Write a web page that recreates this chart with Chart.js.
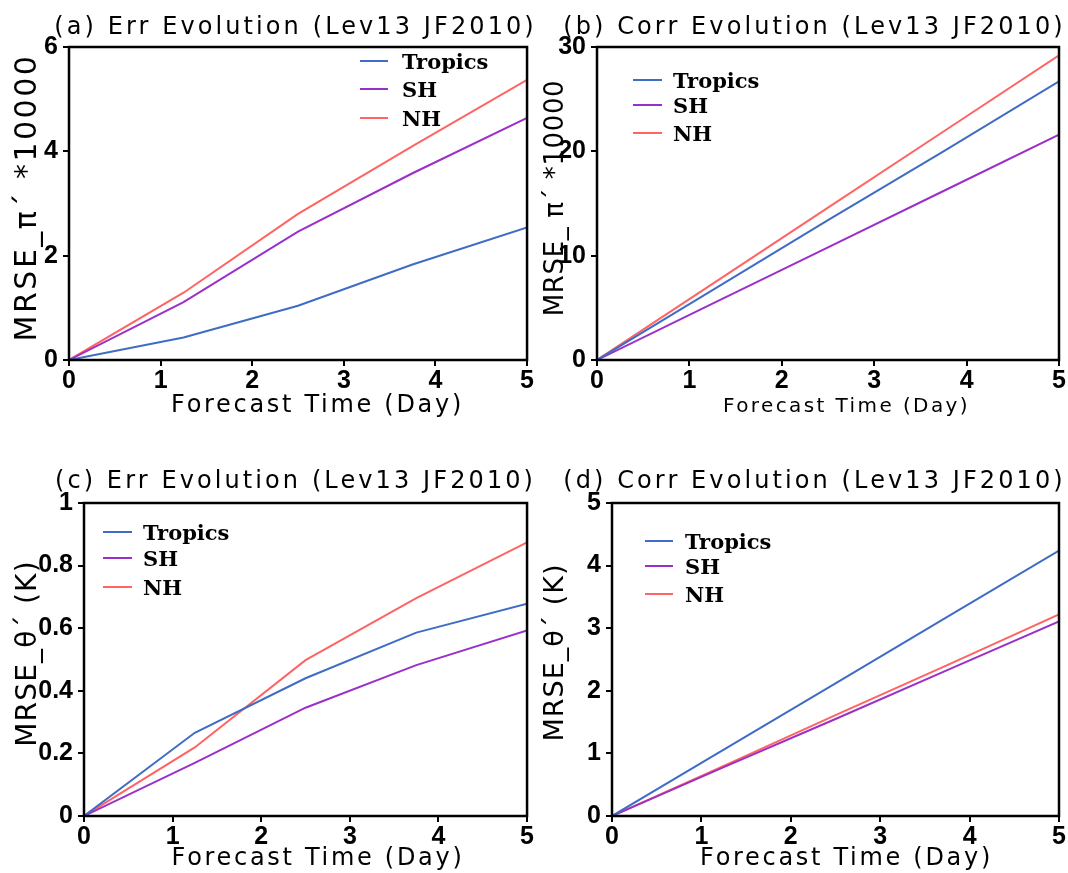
<!DOCTYPE html>
<html>
<head>
<meta charset="utf-8">
<title>MRSE evolution (Lev13 JF2010)</title>
<script src="https://cdn.jsdelivr.net/npm/chart.js@4.4.1/dist/chart.umd.min.js"></script>
<style>
  html, body { margin: 0; padding: 0; background: #fff; }
  #wrap { position: relative; width: 1068px; height: 873px; overflow: hidden; }
  #wrap canvas { position: absolute; }
</style>
</head>
<body>
<div id="wrap">
  <canvas id="chartA" width="534" height="436" style="left:0;top:0"></canvas>
  <canvas id="chartB" width="534" height="436" style="left:534px;top:0"></canvas>
  <canvas id="chartC" width="534" height="436" style="left:0;top:437px"></canvas>
  <canvas id="chartD" width="534" height="436" style="left:534px;top:437px"></canvas>
</div>
<script>
// forecast lead time (days)
const leadDays = [0, 1.25, 2.5, 3.75, 5];
const regionNames = ['Tropics', 'SH', 'NH'];
const regionColors = ['#3f6cc4', '#9b30c9', '#ff6464'];

// (a) Err evolution, MRSE pi' *10000
const errPiTropics = [0, 0.43, 1.04, 1.83, 2.54];
const errPiSH      = [0, 1.11, 2.46, 3.58, 4.64];
const errPiNH      = [0, 1.29, 2.80, 4.10, 5.37];

// (b) Corr evolution, MRSE pi' *10000
const corrPiTropics = [0, 6.7, 13.4, 20.0, 26.7];
const corrPiSH      = [0, 5.4, 10.8, 16.2, 21.6];
const corrPiNH      = [0, 7.3, 14.6, 21.9, 29.2];

// (c) Err evolution, MRSE theta' (K)
const errThTropics = [0, 0.266, 0.440, 0.586, 0.678];
const errThSH      = [0, 0.170, 0.346, 0.482, 0.593];
const errThNH      = [0, 0.219, 0.498, 0.696, 0.874];

// (d) Corr evolution, MRSE theta' (K)
const corrThTropics = [0, 1.06, 2.12, 3.18, 4.24];
const corrThSH      = [0, 0.78, 1.55, 2.33, 3.11];
const corrThNH      = [0, 0.80, 1.61, 2.41, 3.22];

// tick values
const xTicks  = [0, 1, 2, 3, 4, 5];
const yTicksA = [0, 2, 4, 6];
const yTicksB = [0, 10, 20, 30];
const yTicksC = [0, 0.2, 0.4, 0.6, 0.8, 1];
const yTicksD = [0, 1, 2, 3, 4, 5];

const tickFont = { family: 'Liberation Sans', size: 25, weight: 'bold' };

// frame, titles and in-plot legend (GrADS style)
const panelText = {
  id: 'panelText',
  afterDraw(chart, args, o) {
    const ctx = chart.ctx;
    const a = chart.chartArea;
    ctx.save();
    ctx.strokeStyle = '#000';
    ctx.lineWidth = 2.5;
    ctx.strokeRect(a.left, a.top, a.right - a.left, a.bottom - a.top);

    ctx.fillStyle = '#000';
    ctx.textBaseline = 'alphabetic';
    ctx.textAlign = 'center';

    // panel title
    ctx.font = o.titleFont;
    ctx.letterSpacing = o.titleSpacing + 'px';
    ctx.fillText(o.title, o.titleX, o.titleY);

    // x axis title
    ctx.font = o.xFont;
    ctx.letterSpacing = o.xSpacing + 'px';
    ctx.fillText('Forecast Time (Day)', o.xTitleX, o.xTitleY);

    // y axis title (rotated)
    ctx.save();
    ctx.translate(o.yTitleX, o.yTitleY);
    ctx.rotate(-Math.PI / 2);
    ctx.font = o.yFont;
    ctx.letterSpacing = o.ySpacing + 'px';
    ctx.fillText(o.yTitle, 0, 0);
    ctx.restore();

    // legend
    ctx.letterSpacing = '0px';
    ctx.textAlign = 'left';
    ctx.font = 'bold 21px "DejaVu Serif"';
    chart.data.datasets.forEach((ds, i) => {
      const y = o.legendY[i];
      ctx.strokeStyle = ds.borderColor;
      ctx.lineWidth = 2;
      ctx.beginPath();
      ctx.moveTo(o.legendX0, y);
      ctx.lineTo(o.legendX1, y);
      ctx.stroke();
      ctx.fillText(ds.label, o.legendTextX, y + 7.5);
    });
    ctx.restore();
  }
};

function makePanel(canvasId, series, yMax, yTicks, box, text) {
  const ctx = document.getElementById(canvasId).getContext('2d');
  return new Chart(ctx, {
    type: 'line',
    data: {
      datasets: series.map((s, i) => ({
        label: regionNames[i],
        data: leadDays.map((d, j) => ({ x: d, y: s[j] })),
        borderColor: regionColors[i],
        borderWidth: 2,
        pointRadius: 0,
        tension: 0,
        fill: false
      }))
    },
    options: {
      responsive: false,
      animation: false,
      events: [],
      layout: {
        autoPadding: false,
        padding: { left: 0, top: box.top, right: box.right, bottom: 0 }
      },
      plugins: {
        legend: { display: false },
        title: { display: false },
        tooltip: { enabled: false },
        panelText: text
      },
      scales: {
        x: {
          type: 'linear',
          min: 0,
          max: 5,
          afterBuildTicks: (scale) => { scale.ticks = xTicks.map(v => ({ value: v })); },
          afterFit: (scale) => { scale.height = box.xHeight; },
          border: { display: false },
          grid: { display: true, drawOnChartArea: false, drawTicks: true, tickLength: 6, color: '#000', lineWidth: 2 },
          ticks: { color: '#000', font: tickFont, padding: 0, maxRotation: 0, callback: (v) => String(v) }
        },
        y: {
          type: 'linear',
          min: 0,
          max: yMax,
          afterBuildTicks: (scale) => { scale.ticks = yTicks.map(v => ({ value: v })); },
          afterFit: (scale) => { scale.width = box.yWidth; },
          border: { display: false },
          grid: { display: true, drawOnChartArea: false, drawTicks: true, tickLength: 6, color: '#000', lineWidth: 2 },
          ticks: { color: '#000', font: tickFont, padding: 5, callback: (v) => String(v) }
        }
      }
    },
    plugins: [panelText]
  });
}

document.addEventListener('DOMContentLoaded', function() {
  makePanel('chartA', [errPiTropics, errPiSH, errPiNH], 6, yTicksA,
    { top: 47, right: 4, yWidth: 69, xHeight: 76 },
    {
      title: '(a) Err Evolution (Lev13 JF2010)', titleX: 295.5, titleY: 34,
      titleFont: '24px "DejaVu Sans"', titleSpacing: 3.1,
      xTitleX: 317.5, xTitleY: 412, xFont: '24px "DejaVu Sans"', xSpacing: 2.7,
      yTitle: 'MRSE_\u03c0\u00b4 *10000', yTitleX: 36, yTitleY: 197.5,
      yFont: '30px "DejaVu Sans"', ySpacing: 2.5,
      legendX0: 360, legendX1: 388, legendTextX: 402, legendY: [61, 89, 118]
    });

  makePanel('chartB', [corrPiTropics, corrPiSH, corrPiNH], 30, yTicksB,
    { top: 47, right: 9, yWidth: 63, xHeight: 76 },
    {
      title: '(b) Corr Evolution (Lev13 JF2010)', titleX: 280.5, titleY: 34,
      titleFont: '24px "DejaVu Sans"', titleSpacing: 3.1,
      xTitleX: 312.5, xTitleY: 412, xFont: '20px "DejaVu Sans"', xSpacing: 2.4,
      yTitle: 'MRSE_ \u03c0\u00b4 *10000', yTitleX: 29, yTitleY: 198,
      yFont: '26px "DejaVu Sans"', ySpacing: 0.6,
      legendX0: 99, legendX1: 128, legendTextX: 139, legendY: [80, 105, 133]
    });

  makePanel('chartC', [errThTropics, errThSH, errThNH], 1, yTicksC,
    { top: 66, right: 3, yWidth: 84, xHeight: 57 },
    {
      title: '(c) Err Evolution (Lev13 JF2010)', titleX: 295.5, titleY: 51,
      titleFont: '24px "DejaVu Sans"', titleSpacing: 3.1,
      xTitleX: 318, xTitleY: 428, xFont: '24px "DejaVu Sans"', xSpacing: 2.7,
      yTitle: 'MRSE_\u03b8\u00b4 (K)', yTitleX: 36, yTitleY: 216.5,
      yFont: '28px "DejaVu Sans"', ySpacing: 1.2,
      legendX0: 103, legendX1: 132, legendTextX: 143, legendY: [95, 121, 150]
    });

  makePanel('chartD', [corrThTropics, corrThSH, corrThNH], 5, yTicksD,
    { top: 66, right: 9, yWidth: 78, xHeight: 57 },
    {
      title: '(d) Corr Evolution (Lev13 JF2010)', titleX: 280.5, titleY: 51,
      titleFont: '24px "DejaVu Sans"', titleSpacing: 3.1,
      xTitleX: 312.5, xTitleY: 428, xFont: '24px "DejaVu Sans"', xSpacing: 2.7,
      yTitle: 'MRSE_\u03b8\u00b4 (K)', yTitleX: 29, yTitleY: 215.5,
      yFont: '27px "DejaVu Sans"', ySpacing: 1,
      legendX0: 111, legendX1: 139, legendTextX: 151, legendY: [104, 129, 157]
    });
});
</script>
</body>
</html>
